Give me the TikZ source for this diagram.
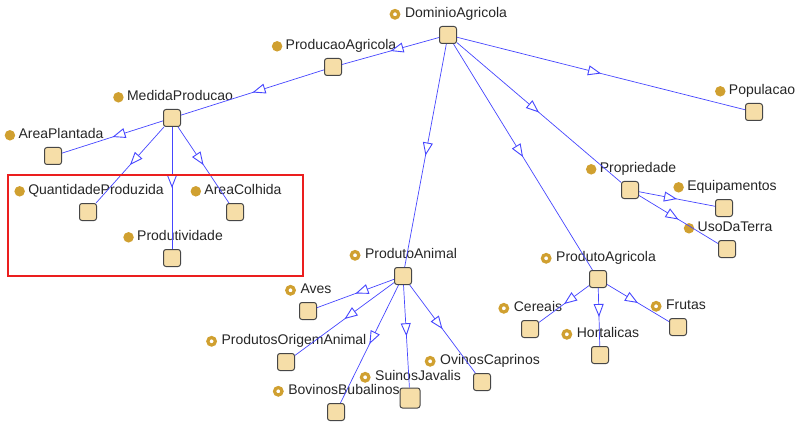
\documentclass[tikz,border=0pt]{standalone}
\usepackage{fontspec}
\setmainfont{Liberation Sans}
\usetikzlibrary{positioning,arrows.meta,decorations.markings}
\definecolor{boxfill}{RGB}{246,222,168}
\definecolor{boxline}{RGB}{70,70,70}
\definecolor{edgeblue}{RGB}{70,70,255}
\definecolor{dotgold}{RGB}{208,160,48}
\definecolor{framered}{RGB}{235,30,30}
\begin{document}
\begin{tikzpicture}[x=1pt,y=-1pt,
  cls/.style={shape=rectangle,draw=boxline,fill=boxfill,line width=1pt,rounded corners=2.5pt,minimum size=17pt,inner sep=0pt},
  clsname/.style={font=\fontsize{14}{16}\selectfont,inner sep=0pt,text height=10pt,text depth=3pt,text=black!85},
  dotfull/.style={label={[shape=circle,fill=dotgold,inner sep=0pt,minimum size=10.5pt,label distance=3pt]left:{}}},
  dotring/.style={label={[shape=circle,draw=dotgold,line width=3.2pt,fill=white,inner sep=0pt,minimum size=7.5pt,label distance=4.5pt]left:{}}},
  isa/.style={draw=edgeblue,line width=0.7pt,postaction={decorate},
    decoration={markings,mark=at position 0.5 with {\arrow[line width=0.9pt]{Triangle[fill=white,length=13pt,width=10pt]}}}},
  highlight/.style={draw=framered,line width=1.5pt},
  ]
	\useasboundingbox (0,0) rectangle (797,422);
	% create the class boxes
	\node[cls] (dom) at (448,35) {};
	\node[cls] (prodagr) at (333,67) {};
	\node[cls] (medida) at (172,118) {};
	\node[cls] (areaplant) at (53,156) {};
	\node[cls] (quant) at (88,212) {};
	\node[cls] (areacol) at (235,212) {};
	\node[cls] (produt) at (172,258) {};
	\node[cls] (popul) at (754,112) {};
	\node[cls] (propr) at (630,190) {};
	\node[cls] (equip) at (724,208) {};
	\node[cls] (uso) at (727,249) {};
	\node[cls] (panimal) at (403,276) {};
	\node[cls] (aves) at (308,311) {};
	\node[cls] (origem) at (286,362) {};
	\node[cls] (bovinos) at (336,412) {};
	\node[cls,minimum size=20pt] (suinos) at (410,398) {};
	\node[cls] (ovinos) at (482,382) {};
	\node[cls] (pagric) at (598,279) {};
	\node[cls] (cereais) at (530,329) {};
	\node[cls] (hort) at (600,355) {};
	\node[cls] (frutas) at (678,327) {};

	% class names
	\node[clsname,dotring] (domL) [above=5pt of dom,xshift=8pt] {DominioAgricola};
	\node[clsname,dotfull] (prodagrL) [above=5pt of prodagr,xshift=8pt] {ProducaoAgricola};
	\node[clsname,dotfull] (medidaL) [above=5pt of medida,xshift=8pt] {MedidaProducao};
	\node[clsname,dotfull] (areaplantL) [above=5pt of areaplant,xshift=8pt] {AreaPlantada};
	\node[clsname,dotfull] (quantL) [above=5pt of quant,xshift=8pt] {QuantidadeProduzida};
	\node[clsname,dotfull] (areacolL) [above=5pt of areacol,xshift=8pt] {AreaColhida};
	\node[clsname,dotfull] (produtL) [above=5pt of produt,xshift=8pt] {Produtividade};
	\node[clsname,dotfull] (populL) [above=5pt of popul,xshift=8pt] {Populacao};
	\node[clsname,dotfull] (proprL) [above=5pt of propr,xshift=8pt] {Propriedade};
	\node[clsname,dotfull] (equipL) [above=5pt of equip,xshift=8pt] {Equipamentos};
	\node[clsname,dotfull] (usoL) [above=5pt of uso,xshift=8pt] {UsoDaTerra};
	\node[clsname,dotring] (panimalL) [above=5pt of panimal,xshift=8pt] {ProdutoAnimal};
	\node[clsname,dotring] (avesL) [above=5pt of aves,xshift=8pt] {Aves};
	\node[clsname,dotring] (origemL) [above=5pt of origem,xshift=8pt] {ProdutosOrigemAnimal};
	\node[clsname,dotring] (bovinosL) [above=5pt of bovinos,xshift=8pt] {BovinosBubalinos};
	\node[clsname,dotring] (suinosL) [above=3.5pt of suinos,xshift=8pt] {SuinosJavalis};
	\node[clsname,dotring] (ovinosL) [above=5pt of ovinos,xshift=8pt] {OvinosCaprinos};
	\node[clsname,dotring] (pagricL) [above=5pt of pagric,xshift=8pt] {ProdutoAgricola};
	\node[clsname,dotring] (cereaisL) [above=5pt of cereais,xshift=8pt] {Cereais};
	\node[clsname,dotring] (hortL) [above=5pt of hort,xshift=8pt] {Hortalicas};
	\node[clsname,dotring] (frutasL) [above=5pt of frutas,xshift=8pt] {Frutas};

	% connect the classes
	\draw[isa] (dom) to (prodagr);
	\draw[isa] (prodagr) to (medida);
	\draw[isa] (dom) to (popul);
	\draw[isa] (dom) to (propr);
	\draw[isa] (dom) to (pagric);
	\draw[isa] (dom) to (panimal);
	\draw[isa] (medida) to (areaplant);
	\draw[isa] (medida) to (quant);
	\draw[isa] (medida) to (produt);
	\draw[isa] (medida) to (areacol);
	\draw[isa] (propr) to (equip);
	\draw[isa] (propr) to (uso);
	\draw[isa] (panimal) to (aves);
	\draw[isa] (panimal) to (origem);
	\draw[isa] (panimal) to (bovinos);
	\draw[isa] (panimal) to (suinos);
	\draw[isa] (panimal) to (ovinos);
	\draw[isa] (pagric) to (cereais);
	\draw[isa] (pagric) to (hort);
	\draw[isa] (pagric) to (frutas);

	\draw[highlight] (8,175) rectangle (303,276);
\end{tikzpicture}
\end{document}
